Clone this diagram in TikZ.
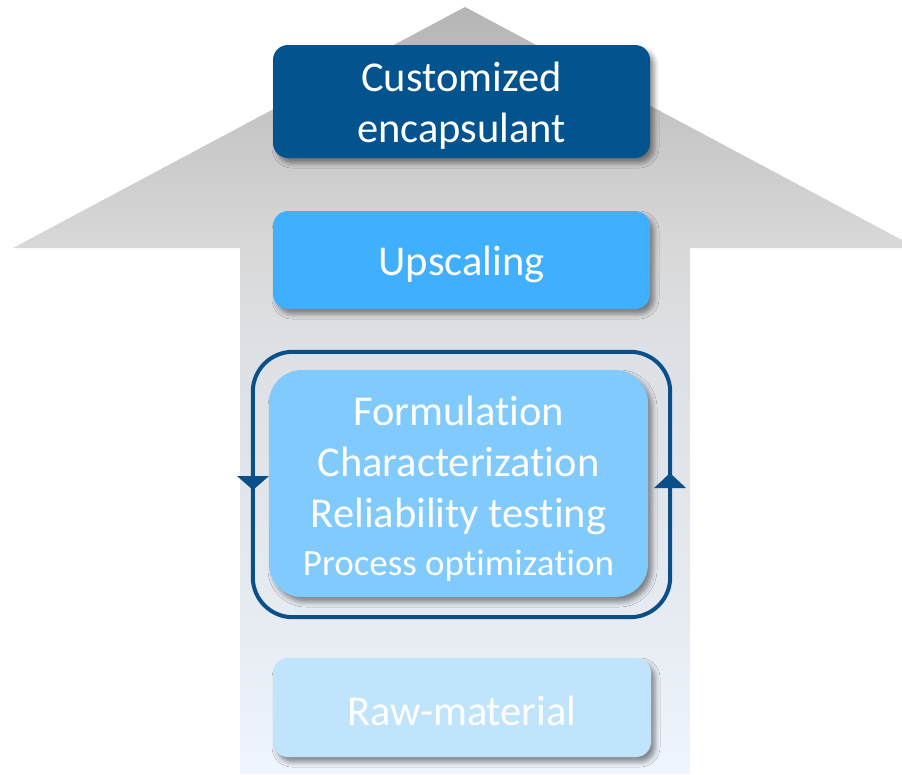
\documentclass[tikz,border=0pt]{standalone}
\usepackage{fontspec}
\setmainfont{Carlito}[Ligatures=NoCommon]
\usetikzlibrary{shadows.blur}

\definecolor{deepblue}{HTML}{02538E}
\definecolor{midblue}{HTML}{40B0FE}
\definecolor{softblue}{HTML}{80CAFE}
\definecolor{paleblue}{HTML}{BFE4FC}
\definecolor{loopblue}{HTML}{0A4F8A}
\definecolor{tipgrey}{HTML}{B5B5B5}
\definecolor{headbase}{HTML}{D9D9D9}
\definecolor{shaftgrey}{HTML}{DCDFE3}
\definecolor{midpale}{HTML}{E6EBF1}
\definecolor{paleend}{HTML}{EEF5FD}

% vertical fade of the big background arrow (bottom stop at 25bp, top at 75bp)
\pgfdeclareverticalshading{stemfade}{100bp}{%
  color(0bp)=(paleend); color(25bp)=(paleend); color(36bp)=(midpale);
  color(54bp)=(shaftgrey); color(59bp)=(headbase); color(75bp)=(tipgrey);
  color(100bp)=(tipgrey)}

\begin{document}
\begin{tikzpicture}[x=1pt, y=-1pt,
  stage/.style={rounded corners=15pt, inner sep=0pt,
    blur shadow={shadow xshift=4pt, shadow yshift=-5pt,
      shadow blur radius=5pt, shadow opacity=45}},
  caption/.style={text=white, align=center, inner sep=0pt,
    font=\fontsize{42.5}{51}\selectfont},
  loopline/.style={draw=loopblue, line width=4pt, rounded corners=40pt},
  looptip/.style={fill=loopblue}]

\useasboundingbox (0,0) rectangle (902,774);

% background arrow pointing upwards
\begin{scope}
  \clip (0,0) rectangle (902,774);
  \shade[shading=stemfade] (465,7) -- (13,248) -- (240,248) -- (240,774)
    -- (690,774) -- (690,248) -- (917,248) -- cycle;
\end{scope}

% stage boxes
\node[stage, fill=deepblue, minimum width=377pt, minimum height=113pt]
  (product) at (461.5,101.5) {};
\node[stage, fill=midblue, minimum width=377pt, minimum height=98pt]
  (upscale) at (461.5,260) {};
\node[stage, fill=softblue, rounded corners=33pt, minimum width=379pt,
  minimum height=227pt] (core) at (458.5,483.5) {};
\node[stage, fill=paleblue, minimum width=378pt, minimum height=99pt]
  (raw) at (462,707.5) {};

% stage captions
\node[caption] (product-text) at ([yshift=-4pt]product.center)
  {Customized\\encapsulant};
\node[caption] (upscale-text) at ([yshift=-4pt]upscale.center) {Upscaling};
\node[caption] (core-text) at ([yshift=-5pt]core.center)
  {Formulation\\Characterization\\Reliability testing\\[-3pt]
   {\fontsize{37}{47}\selectfont Process optimization}};
\node[caption] (raw-text) at ([yshift=-3pt]raw.center) {Raw-material};

% iteration loop round the development stage
\coordinate (loopnw) at ([shift={(-16,-18)}]core.north west);
\coordinate (loopse) at ([shift={(22,20)}]core.south east);
\draw[loopline] (loopnw) rectangle (loopse);
\fill[looptip] (237,476) -- (269,476) -- (253,490) -- cycle;
\fill[looptip] (654,488) -- (686,488) -- (670,473) -- cycle;

\end{tikzpicture}
\end{document}
